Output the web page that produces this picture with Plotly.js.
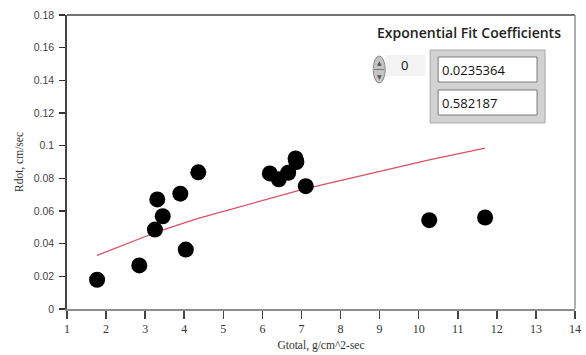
<!DOCTYPE html>
<html>
<head>
<meta charset="utf-8">
<script src="https://cdn.plot.ly/plotly-3.0.1.min.js"></script>
<style>
html,body{margin:0;padding:0;background:#fff;}
#chart{width:586px;height:355px;}
</style>
</head>
<body>
<div id="chart"></div>
<script>
// Measured data points (Gtotal vs Rdot)
const gTotal = [1.77, 2.85, 3.25, 3.31, 3.45, 3.90, 4.04, 4.36, 6.19, 6.42, 6.66, 6.85, 6.87, 7.11, 10.27, 11.70];
const rDot   = [0.0179, 0.0267, 0.0486, 0.0671, 0.0568, 0.0706, 0.0364, 0.0837, 0.0830, 0.0794, 0.0834, 0.0922, 0.0900, 0.0752, 0.0544, 0.0560];

// Fitted curve as drawn (red line)
const fitX = [1.77, 2.85, 3.25, 3.31, 3.45, 3.90, 4.04, 4.36, 6.19, 6.42, 6.66, 6.85, 6.87, 7.11, 10.27, 11.70];
const fitY = [0.0328, 0.0433, 0.0467, 0.0472, 0.0484, 0.0520, 0.0530, 0.0555, 0.0680, 0.0695, 0.0710, 0.0721, 0.0722, 0.0737, 0.0913, 0.0985];

// Tick labels
const xTicks = [1,2,3,4,5,6,7,8,9,10,11,12,13,14];
const yTicks = [0,0.02,0.04,0.06,0.08,0.1,0.12,0.14,0.16,0.18];
const yTickText = ['0','0.02','0.04','0.06','0.08','0.1','0.12','0.14','0.16','0.18'];

// Panel texts
const panelTitle = 'Exponential Fit Coefficients';
const indexValue = '0';
const coefficients = ['0.0235364', '0.582187'];

const traces = [
  {
    x: fitX, y: fitY, mode: 'lines', type: 'scatter',
    line: {color: 'rgb(222,78,98)', width: 1.2},
    hoverinfo: 'skip', showlegend: false
  },
  {
    x: gTotal, y: rDot, mode: 'markers', type: 'scatter',
    marker: {color: '#000', size: 16, line: {width: 0}},
    showlegend: false
  }
];

function px(x){ return (x-66.5)/508.5; }
function py(y){ return (309-y)/294; }

const shapes = [
  // plot frame: top & right
  {type:'line', xref:'paper', yref:'paper', x0:0, x1:1, y0:1, y1:1, line:{color:'#444', width:1.6}},
  {type:'line', xref:'paper', yref:'paper', x0:1, x1:1, y0:0, y1:1, line:{color:'#9a9a9a', width:1.6}},
  // coefficient array frame
  {type:'rect', xref:'paper', yref:'paper', x0:px(430), x1:px(545), y0:py(123), y1:py(50),
    fillcolor:'#d2d2d2', line:{color:'#a8a8a8', width:1}, layer:'above'},
  {type:'rect', xref:'paper', yref:'paper', x0:px(438), x1:px(537), y0:py(82), y1:py(57),
    fillcolor:'#fff', line:{color:'#7a7a7a', width:1}, layer:'above'},
  {type:'rect', xref:'paper', yref:'paper', x0:px(438), x1:px(537), y0:py(115), y1:py(90),
    fillcolor:'#fff', line:{color:'#7a7a7a', width:1}, layer:'above'},
  // index control: light box
  {type:'rect', xref:'paper', yref:'paper', x0:px(385), x1:px(425), y0:py(76), y1:py(55),
    fillcolor:'#f3f3f3', line:{color:'#f3f3f3', width:0}, layer:'above'},
  // spinner ellipse
  {type:'circle', xref:'paper', yref:'paper', x0:px(373), x1:px(385), y0:py(83), y1:py(56),
    fillcolor:'#c4c4c4', line:{color:'#8a8a8a', width:1}, layer:'above'},
  {type:'line', xref:'paper', yref:'paper', x0:px(374), x1:px(384), y0:py(69.5), y1:py(69.5),
    line:{color:'#777', width:1}, layer:'above'}
];

const annotations = [
  {text: panelTitle, xref:'paper', yref:'paper', x:px(469), y:py(33), showarrow:false,
    font:{family:'Open Sans', size:14, weight:600, color:'#222'}, xanchor:'center', yanchor:'middle'},
  {text: indexValue, xref:'paper', yref:'paper', x:px(399), y:py(65), showarrow:false,
    font:{family:'Open Sans', size:13, color:'#111'}, xanchor:'left', yanchor:'middle'},
  {text: coefficients[0], xref:'paper', yref:'paper', x:px(440), y:py(70), showarrow:false,
    font:{family:'Open Sans', size:13, color:'#111'}, xanchor:'left', yanchor:'middle'},
  {text: coefficients[1], xref:'paper', yref:'paper', x:px(440), y:py(103), showarrow:false,
    font:{family:'Open Sans', size:13, color:'#111'}, xanchor:'left', yanchor:'middle'},
  {text: '\u25B2', xref:'paper', yref:'paper', x:px(379), y:py(63), showarrow:false,
    font:{family:'DejaVu Sans', size:6, color:'#555'}, xanchor:'center', yanchor:'middle'},
  {text: '\u25BC', xref:'paper', yref:'paper', x:px(379), y:py(76), showarrow:false,
    font:{family:'DejaVu Sans', size:6, color:'#555'}, xanchor:'center', yanchor:'middle'}
];

const layout = {
  width: 586, height: 355,
  margin: {l: 66.5, r: 11, t: 15, b: 46, pad: 0},
  paper_bgcolor: '#fff', plot_bgcolor: '#fff',
  showlegend: false,
  xaxis: {
    range: [1, 14], tickvals: xTicks, ticktext: xTicks.map(String),
    ticks: 'outside', ticklen: 8, tickwidth: 1.5, tickcolor: '#444',
    showgrid: false, zeroline: false,
    showline: true, linecolor: '#8e8e8e', linewidth: 1.8,
    tickfont: {family: 'Liberation Serif', size: 12, color: '#333'},
    title: {text: 'Gtotal, g/cm^2-sec', font: {family: 'Liberation Serif', size: 11.5, color: '#333'}, standoff: 6}
  },
  yaxis: {
    range: [0, 0.18], tickvals: yTicks, ticktext: yTickText,
    ticks: 'outside', ticklen: 6, tickwidth: 1.5, tickcolor: '#333',
    showgrid: false, zeroline: false,
    showline: true, linecolor: '#444', linewidth: 1.8,
    tickfont: {family: 'Liberation Sans', size: 10.5, color: '#444'},
    ticklabelstandoff: 3,
    title: {text: 'Rdot, cm/sec', font: {family: 'Liberation Serif', size: 11.5, color: '#333'}, standoff: 8}
  },
  shapes: shapes,
  annotations: annotations
};

Plotly.newPlot('chart', traces, layout, {displayModeBar: false, staticPlot: true});
</script>
</body>
</html>
